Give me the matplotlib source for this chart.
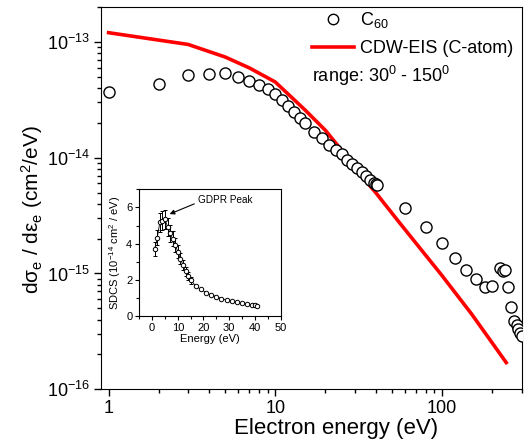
import matplotlib
matplotlib.use("Agg")
import matplotlib.pyplot as plt
from matplotlib.ticker import FixedLocator, NullFormatter, FuncFormatter, MultipleLocator, LogFormatterSciNotation
from matplotlib.lines import Line2D
import numpy as np

plt.rcParams['font.family'] = ['Liberation Sans', 'DejaVu Sans']
plt.rcParams['mathtext.fontset'] = 'custom'
plt.rcParams['mathtext.rm'] = 'Liberation Sans'
plt.rcParams['mathtext.it'] = 'Liberation Sans:italic'
plt.rcParams['mathtext.bf'] = 'Liberation Sans:bold'

# ---- data ----
c60_energy = [1, 2, 3, 4, 5, 6, 7, 8, 9, 10, 11, 12, 13, 14, 15,
              17, 19, 21, 23, 25, 27, 29, 31, 33, 35, 37, 39, 40, 41,
              60, 80, 100, 120, 140, 160, 180, 200, 224, 232, 240, 250,
              260, 270, 280, 286, 292, 300]
c60_sdcs_1e14 = [3.7, 4.33, 5.17, 5.27, 5.34, 4.93, 4.56, 4.27, 3.92, 3.55, 3.17, 2.82, 2.47, 2.21, 1.98,
                 1.66, 1.47, 1.29, 1.17, 1.07, 0.96, 0.89, 0.82, 0.75, 0.695, 0.647, 0.605, 0.59, 0.578,
                 0.37, 0.253, 0.182, 0.137, 0.107, 0.089, 0.076, 0.078, 0.112, 0.105, 0.107, 0.076,
                 0.051, 0.0386, 0.036, 0.033, 0.0307, 0.0287]

cdw_energy = [1, 3, 5, 7, 10, 15, 20, 25, 30, 40, 55, 100, 150, 243]
cdw_sdcs = [1.2e-13, 9.5e-14, 7.4e-14, 5.95e-14, 4.5e-14, 2.6e-14, 1.72e-14, 1.16e-14,
            8.1e-15, 5.0e-15, 2.8e-15, 9.6e-16, 4.5e-16, 1.7e-16]

x_major_ticks = [1, 10, 100]
x_minor_ticks = [2, 3, 4, 5, 6, 7, 8, 9, 20, 30, 40, 50, 60, 70, 80, 90, 200, 300]
y_major_ticks = [1e-16, 1e-15, 1e-14, 1e-13]
y_minor_ticks = [m * 10.0 ** e for e in (-16, -15, -14) for m in range(2, 10)] + [2e-13]

inset_max_energy = 41
inset_err_frac = 0.1
inset_err_limit = 15

c60_sdcs = [v * 1e-14 for v in c60_sdcs_1e14]

# ---- figure ----
W, H = 528, 444
fig = plt.figure(figsize=(W / 100, H / 100), dpi=100)
ax = fig.add_axes([101 / W, (H - 389.3) / H, (521.5 - 101) / W, (389.3 - 7) / H])

ax.plot(cdw_energy, cdw_sdcs, color='#ff0000', lw=2.6, zorder=2)
ax.plot(c60_energy, c60_sdcs, linestyle='none', marker='o', ms=8, mfc='white',
        mec='black', mew=1.0, zorder=3, clip_on=True)

ax.set_xscale('log')
ax.set_yscale('log')
ax.set_xlim(0.9, 300)
ax.set_ylim(1e-16, 2e-13)

ax.xaxis.set_major_locator(FixedLocator(x_major_ticks))
ax.xaxis.set_minor_locator(FixedLocator(x_minor_ticks))
ax.xaxis.set_major_formatter(FuncFormatter(lambda v, p: f'{v:g}'))
ax.xaxis.set_minor_formatter(NullFormatter())
ax.yaxis.set_major_locator(FixedLocator(y_major_ticks))
ax.yaxis.set_minor_locator(FixedLocator(y_minor_ticks))
ax.yaxis.set_major_formatter(LogFormatterSciNotation())
ax.yaxis.set_minor_formatter(NullFormatter())

ax.tick_params(which='both', direction='out', top=False, right=False, labelsize=13, pad=3)
ax.tick_params(which='major', length=5, width=1)
ax.tick_params(which='minor', length=3, width=1)

ax.set_xlabel('Electron energy (eV)', fontsize=16)
ax.xaxis.set_label_coords(0.559, -0.076)
ax.set_ylabel('dσ$_\\mathregular{e}$ / dε$_\\mathregular{e}$ (cm$^\\mathregular{2}$/eV)', fontsize=15)
ax.yaxis.set_label_coords(-0.133, 0.47)

handles = [Line2D([], [], linestyle='none', marker='o', ms=7.5, mfc='white', mec='black', mew=1.0),
           Line2D([], [], color='#ff0000', lw=2.6)]
labels = ['C$_\\mathregular{60}$', 'CDW-EIS (C-atom)']
ax.legend(handles, labels, loc='upper left', bbox_to_anchor=(312 / W, 1 - 10 / H),
          bbox_transform=fig.transFigure, frameon=False, fontsize=13, handlelength=2.35,
          handletextpad=0.3, labelspacing=0.55, borderpad=0, borderaxespad=0)
fig.text(312.5 / W, 1 - 76 / H, 'range: 30$^\\mathregular{0}$ - 150$^\\mathregular{0}$',
         fontsize=13, va='center', ha='left')

# ---- inset ----
iax = fig.add_axes([139.3 / W, (H - 316) / H, (280.5 - 139.3) / W, (316 - 189.3) / H])
ie = [e for e in c60_energy if e <= inset_max_energy]
iv = c60_sdcs_1e14[:len(ie)]
ierr = [v * inset_err_frac if e <= inset_err_limit else 0 for e, v in zip(ie, iv)]
iax.errorbar(ie, iv, yerr=ierr, color='black', lw=0.6, marker='o', ms=3.2, mfc='white',
             mec='black', mew=0.7, capsize=1.5, elinewidth=0.7, capthick=0.7)
iax.set_xlim(-5, 50)
iax.set_ylim(0, 7)
iax.xaxis.set_major_locator(MultipleLocator(10))
iax.xaxis.set_minor_locator(MultipleLocator(5))
iax.yaxis.set_major_locator(MultipleLocator(2))
iax.yaxis.set_minor_locator(MultipleLocator(1))
iax.tick_params(which='both', direction='out', top=False, right=False, labelsize=8, pad=2)
iax.tick_params(which='major', length=3, width=0.8)
iax.tick_params(which='minor', length=2, width=0.8)
for s in iax.spines.values():
    s.set_linewidth(0.8)
iax.set_xlabel('Energy (eV)', fontsize=8, labelpad=1)
iax.set_ylabel('SDCS (10$^\\mathregular{-14}$ cm$^\\mathregular{2}$ / eV)', fontsize=8, labelpad=2)
iax.annotate('GDPR Peak', xy=(6.3, 5.6), xytext=(18, 6.4), fontsize=7.2, ha='left', va='center',
             arrowprops=dict(arrowstyle='-|>', color='black', lw=0.8, mutation_scale=7,
                             relpos=(0, 0.3), shrinkA=1, shrinkB=1))

fig.savefig('out.png', dpi=100)
